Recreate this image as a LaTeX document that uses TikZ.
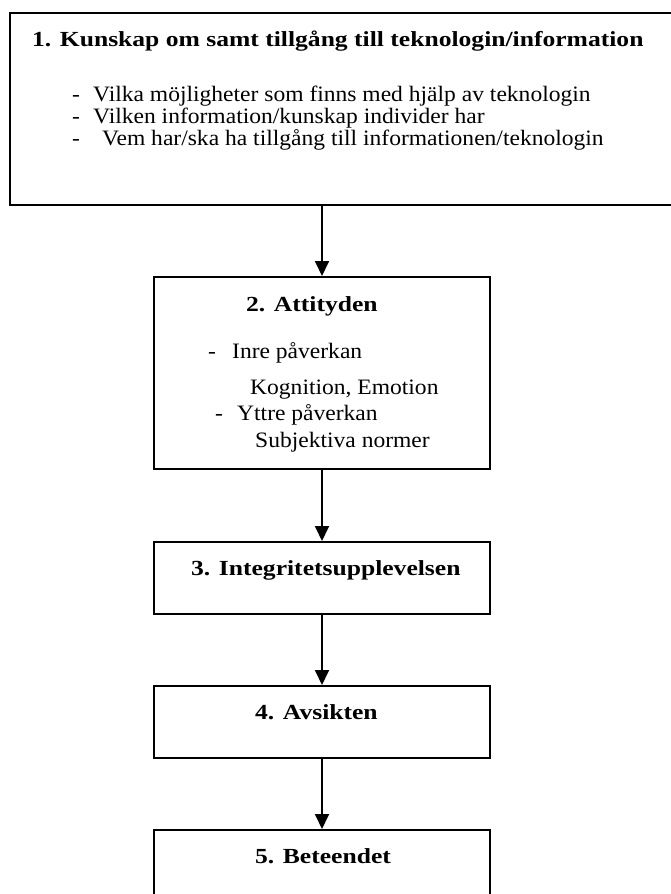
\documentclass[tikz,border=0pt]{standalone}
\usepackage{fontspec}
\setmainfont{Liberation Serif}[FakeStretch=1.07, BoldFeatures={FakeStretch=1.19}]
\usetikzlibrary{arrows.meta}
\begin{document}
\begin{tikzpicture}[x=1pt,y=-1pt,
  box/.style={draw, line width=2pt, rectangle, inner sep=0pt},
  ttl/.style={anchor=base west, inner sep=0pt, font=\fontsize{21.5}{24}\selectfont\bfseries},
  txt/.style={anchor=base west, inner sep=0pt, font=\fontsize{22}{24}\selectfont},
  arr/.style={line width=1.8pt, -{Triangle[width=14pt,length=15pt]}}]
\useasboundingbox (0,0) rectangle (671,894);
\clip (0,0) rectangle (671,894);
% boxes
\node[box, minimum width=670pt, minimum height=192pt] (b1) at (345,109) {};
\node[box, minimum width=336pt, minimum height=192pt] (b2) at (322,373) {};
\node[box, minimum width=336pt, minimum height=72pt] (b3) at (322,578) {};
\node[box, minimum width=336pt, minimum height=72pt] (b4) at (322,722) {};
\node[box, minimum width=336pt, minimum height=72pt] (b5) at (322,866) {};
% connectors
\draw[arr] (b1.south -| b2.north) -- (b2.north);
\draw[arr] (b2.south) -- (b3.north);
\draw[arr] (b3.south) -- (b4.north);
\draw[arr] (b4.south) -- (b5.north);
% box 1 text
\node[ttl] (t1) at (32,46) {1. Kunskap om samt tillgång till teknologin/information};
\node[txt] (d1a) at (72,101) {-};
\node[txt] (l1a) at (93,101) {Vilka möjligheter som finns med hjälp av teknologin};
\node[txt] (d1b) at (72,123) {-};
\node[txt] (l1b) at (93,123) {Vilken information/kunskap individer har};
\node[txt] (d1c) at (72,145) {-};
\node[txt] (l1c) at (102,145) {Vem har/ska ha tillgång till informationen/teknologin};
% box 2 text
\node[ttl] (t2) at (246,311) {2. Attityden};
\node[txt] (d2a) at (208,358) {-};
\node[txt] (l2a) at (232,358) {Inre påverkan};
\node[txt] (l2b) at (250,394) {Kognition, Emotion};
\node[txt] (d2c) at (215,420) {-};
\node[txt] (l2c) at (237,420) {Yttre påverkan};
\node[txt] (l2d) at (255,447) {Subjektiva normer};
% other titles
\node[ttl] (t3) at (191,575) {3. Integritetsupplevelsen};
\node[ttl] (t4) at (255,719) {4. Avsikten};
\node[ttl] (t5) at (255,863) {5. Beteendet};
\end{tikzpicture}
\end{document}
